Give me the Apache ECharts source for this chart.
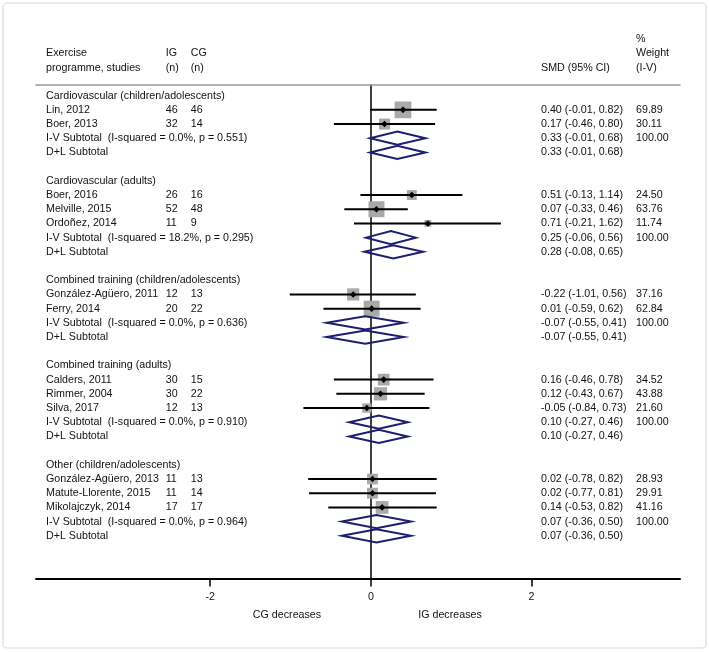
<!DOCTYPE html>
<html><head><meta charset="utf-8">
<script src="https://cdn.jsdelivr.net/npm/echarts@6/dist/echarts.min.js"></script>
<style>html,body{margin:0;padding:0;background:#fff}#c{width:709px;height:652px}</style>
</head><body><div id="c"></div>
<script>
// ---------- data ----------
const groupNames = [
  'Cardiovascular (children/adolescents)',
  'Cardiovascular (adults)',
  'Combined training (children/adolescents)',
  'Combined training (adults)',
  'Other (children/adolescents)'
];
const studyNames = [
  'Lin, 2012', 'Boer, 2013',
  'Boer, 2016', 'Melville, 2015', 'Ordoñez, 2014',
  'González-Agüero, 2011', 'Ferry, 2014',
  'Calders, 2011', 'Rimmer, 2004', 'Silva, 2017',
  'González-Agüero, 2013', 'Matute-Llorente, 2015', 'Mikolajczyk, 2014'
];
const studyGroup = [0,0,1,1,1,2,2,3,3,3,4,4,4];
const igN = [46,32,26,52,11,12,20,30,30,12,11,11,17];
const cgN = [46,14,16,48,9,13,22,15,22,13,13,14,17];
const smd = [0.40,0.17,0.51,0.07,0.71,-0.22,0.01,0.16,0.12,-0.05,0.02,0.02,0.14];
const ciLow = [-0.01,-0.46,-0.13,-0.33,-0.21,-1.01,-0.59,-0.46,-0.43,-0.84,-0.78,-0.77,-0.53];
const ciHigh = [0.82,0.80,1.14,0.46,1.62,0.56,0.62,0.78,0.67,0.73,0.82,0.81,0.82];
const weight = [69.89,30.11,24.50,63.76,11.74,37.16,62.84,34.52,43.88,21.60,28.93,29.91,41.16];
const ivEst = [0.33,0.25,-0.07,0.10,0.07];
const ivLow = [-0.01,-0.06,-0.55,-0.27,-0.36];
const ivHigh = [0.68,0.56,0.41,0.46,0.50];
const iSquared = ['0.0','18.2','0.0','0.0','0.0'];
const pHet = ['0.551','0.295','0.636','0.910','0.964'];
const dlEst = [0.33,0.28,-0.07,0.10,0.07];
const dlLow = [-0.01,-0.08,-0.55,-0.27,-0.36];
const dlHigh = [0.68,0.65,0.41,0.46,0.50];
const xTicks = [-2, 0, 2];

// ---------- row layout ----------
const FONT = "'Liberation Sans', Arial, Helvetica, sans-serif";
const FS = 10.7;
const fmt = v => v.toFixed(2);
const ci = (e,l,h) => fmt(e) + ' (' + fmt(l) + ', ' + fmt(h) + ')';
const textRows = [];
const studyRow = [];
const diamonds = []; // [est, low, high, row]
let r = 1;
groupNames.forEach((g, gi) => {
  textRows.push({row: r, label: g}); r++;
  studyNames.forEach((s, i) => {
    if (studyGroup[i] !== gi) return;
    studyRow[i] = r;
    textRows.push({row: r, label: s, ig: String(igN[i]), cg: String(cgN[i]),
      est: ci(smd[i], ciLow[i], ciHigh[i]), wt: fmt(weight[i])});
    r++;
  });
  textRows.push({row: r, label: 'I-V Subtotal  (I-squared = ' + iSquared[gi] + '%, p = ' + pHet[gi] + ')',
    est: ci(ivEst[gi], ivLow[gi], ivHigh[gi]), wt: '100.00'});
  diamonds.push([ivEst[gi], ivLow[gi], ivHigh[gi], r]); r++;
  textRows.push({row: r, label: 'D+L Subtotal', est: ci(dlEst[gi], dlLow[gi], dlHigh[gi])});
  diamonds.push([dlEst[gi], dlLow[gi], dlHigh[gi], r]); r++;
  r++; // blank
});

const COLX = {label: 46, ig: 165.7, cg: 190.7, est: 541, wt: 636};
const TXT_COLOR = '#111';
const txt = (x, y, s, align) => ({type: 'text', x: x, y: y,
  style: {text: s, fill: TXT_COLOR, font: FS + 'px ' + FONT, textVerticalAlign: 'middle', textAlign: align || 'left'}});

const chart = echarts.init(document.getElementById('c'), null, {renderer: 'canvas'});
const axisCommon = {type: 'value', min: -4.17, max: 3.85, splitLine: {show: false}};
chart.setOption({
  backgroundColor: '#fff',
  animation: false,
  grid: {left: 36, right: 29, top: 85, bottom: 73.6, containLabel: false},
  xAxis: [
    Object.assign({}, axisCommon, {
      position: 'bottom',
      axisLine: {show: true, onZero: false, lineStyle: {color: '#000', width: 2}},
      axisTick: {show: true, customValues: xTicks, length: 8, inside: false, lineStyle: {color: '#000', width: 1.5}},
      axisLabel: {show: true, customValues: xTicks, margin: 13, color: TXT_COLOR, fontSize: FS, fontFamily: FONT}
    }),
    Object.assign({}, axisCommon, {
      position: 'top',
      axisLine: {show: true, onZero: false, lineStyle: {color: '#9a9a9a', width: 1.5}},
      axisTick: {show: false}, axisLabel: {show: false}
    })
  ],
  yAxis: {
    type: 'value', min: 0.25, max: 35, inverse: true,
    axisLine: {show: true, onZero: true, onZeroAxisIndex: 0, lineStyle: {color: '#000', width: 1.5}},
    axisTick: {show: false}, axisLabel: {show: false}, splitLine: {show: false}
  },
  graphic: [
    {type: 'rect', shape: {x: 3, y: 3, width: 703, height: 645, r: 4}, style: {fill: 'none', stroke: '#dde7e7', lineWidth: 1.5}, z: -1},
    txt(46, 53.3, 'Exercise'), txt(46, 68.3, 'programme, studies'),
    txt(165.7, 53.3, 'IG'), txt(165.7, 68.3, '(n)'),
    txt(190.7, 53.3, 'CG'), txt(190.7, 68.3, '(n)'),
    txt(541, 68.3, 'SMD (95% CI)'),
    txt(636, 39.3, '%'), txt(636, 53.3, 'Weight'), txt(636, 68.3, '(I-V)'),
    txt(287, 615, 'CG decreases', 'center'),
    txt(450, 615, 'IG decreases', 'center')
  ],
  series: [
    {
      type: 'custom', name: 'studies', clip: false, xAxisIndex: 0, yAxisIndex: 0,
      encode: {x: 0, y: 1},
      data: smd.map((v, i) => [v, studyRow[i], i]),
      renderItem: (params, api) => {
        const i = api.value(2), row = api.value(1);
        const c = api.coord([smd[i], row]);
        const l = api.coord([ciLow[i], row]);
        const h = api.coord([ciHigh[i], row]);
        const s = 2 * Math.sqrt(weight[i]);
        const d = 3.3;
        return {type: 'group', children: [
          {type: 'rect', shape: {x: c[0] - s / 2, y: c[1] - s / 2, width: s, height: s}, style: {fill: '#a9a9a9'}},
          {type: 'line', shape: {x1: l[0], y1: l[1], x2: h[0], y2: h[1]}, style: {stroke: '#000', lineWidth: 2}},
          {type: 'polygon', shape: {points: [[c[0] - d, c[1]], [c[0], c[1] - d], [c[0] + d, c[1]], [c[0], c[1] + d]]}, style: {fill: '#000'}}
        ]};
      }
    },
    {
      type: 'custom', name: 'subtotals', clip: false,
      encode: {x: 0, y: 3},
      data: diamonds,
      renderItem: (params, api) => {
        const row = api.value(3);
        const c = api.coord([api.value(0), row]);
        const l = api.coord([api.value(1), row]);
        const h = api.coord([api.value(2), row]);
        const hh = 6.6;
        return {type: 'polygon', shape: {points: [[l[0], c[1]], [c[0], c[1] - hh], [h[0], c[1]], [c[0], c[1] + hh]]},
          style: {fill: 'none', stroke: '#1e1e6e', lineWidth: 2}};
      }
    },
    {
      type: 'custom', name: 'table', clip: false, silent: true,
      encode: {x: 0, y: 1},
      data: textRows.map((t, i) => [0, t.row, i]),
      renderItem: (params, api) => {
        const t = textRows[api.value(2)];
        const y = api.coord([0, t.row])[1];
        const ch = [];
        ['label', 'ig', 'cg', 'est', 'wt'].forEach(k => {
          if (t[k] !== undefined) ch.push(txt(COLX[k], y, t[k]));
        });
        return {type: 'group', children: ch};
      }
    }
  ]
});
</script></body></html>
